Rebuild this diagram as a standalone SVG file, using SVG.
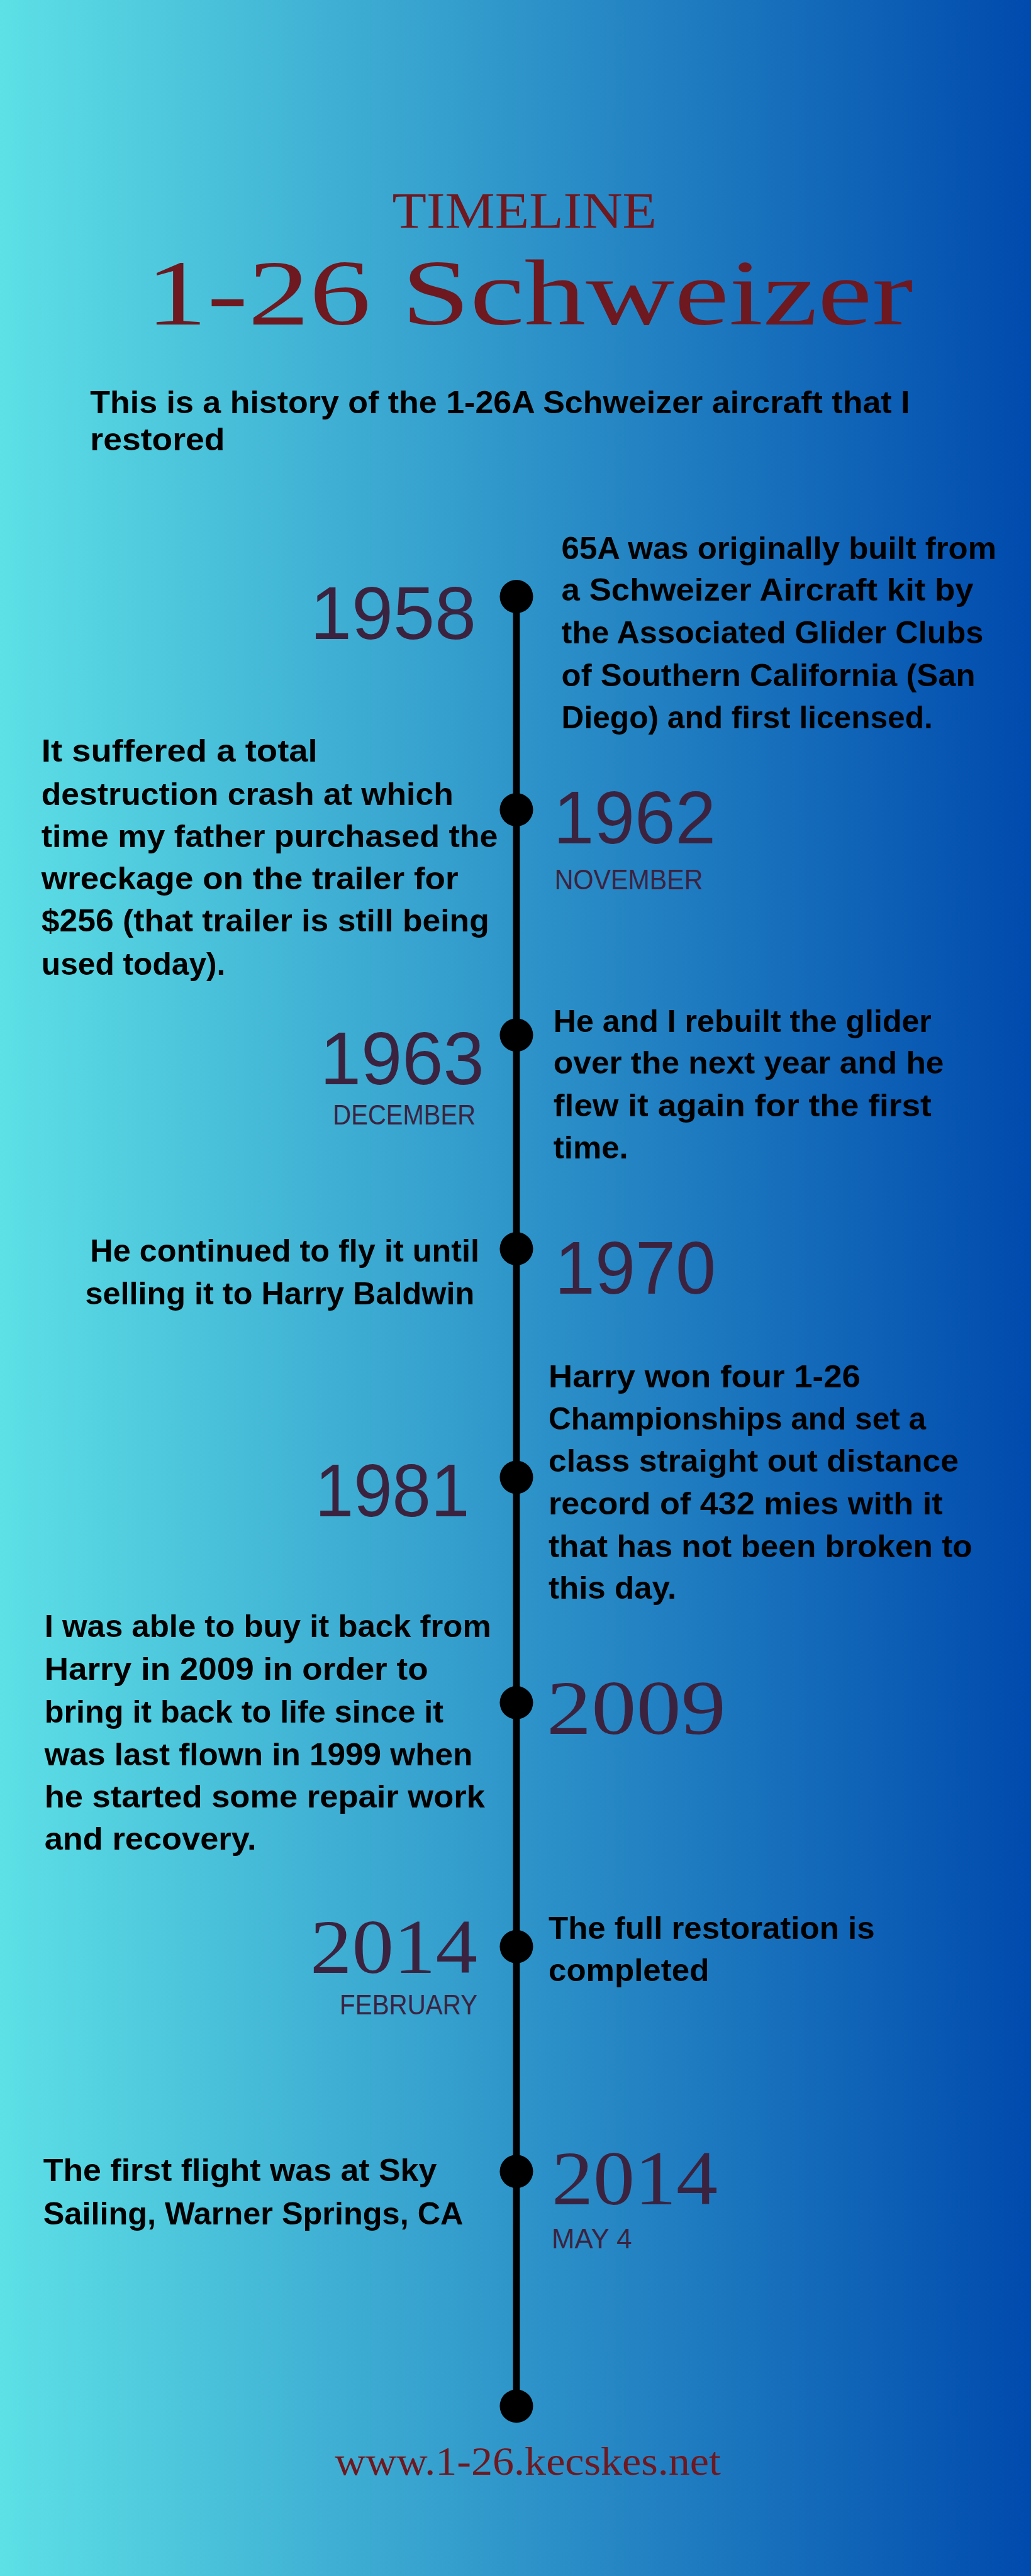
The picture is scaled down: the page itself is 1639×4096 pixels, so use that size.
<svg xmlns="http://www.w3.org/2000/svg" width="1639" height="4096" viewBox="0 0 1639 4096">
<defs>
<linearGradient id="bg" x1="0" y1="0" x2="1639" y2="0" gradientUnits="userSpaceOnUse">
<stop offset="0" stop-color="#5de0e6"/>
<stop offset="1" stop-color="#004aad"/>
</linearGradient>
<style>
.title{font-family:"Liberation Serif","DejaVu Serif",serif;fill:#6e1820;}
.body{font-family:"Liberation Sans","Arimo",sans-serif;font-weight:700;font-size:50px;fill:#000;}
.year{font-family:"Liberation Sans",sans-serif;font-size:120px;fill:#3b2340;}
.yearS{font-family:"Liberation Serif",serif;font-size:124px;fill:#3b2340;}
.month{font-family:"Liberation Sans",sans-serif;font-size:46px;fill:#3b2340;}
.dot{fill:#000;}
.line{stroke:#000;stroke-width:11;fill:none;}
</style>
</defs>
<rect x="0" y="0" width="1639" height="4096" fill="url(#bg)"/>
<g transform="scale(0.982)">
<g id="header">
<text class="title" x="635" y="369" font-size="82" textLength="428" lengthAdjust="spacingAndGlyphs">TIMELINE</text>
<text class="title" x="236" y="525" font-size="152" textLength="1242" lengthAdjust="spacingAndGlyphs">1-26 Schweizer</text>
<text class="body" x="146" y="669" textLength="1327" lengthAdjust="spacingAndGlyphs">This is a history of the 1-26A Schweizer aircraft that I</text>
<text class="body" x="146" y="729" textLength="218" lengthAdjust="spacingAndGlyphs">restored</text>
</g>
<g id="connectors">
<line class="line" x1="836" y1="966" x2="836" y2="3896"/>
</g>
<g id="event-1958">
<circle class="dot" cx="836" cy="966" r="27"/>
<text class="year" x="502" y="1035" textLength="269" lengthAdjust="spacingAndGlyphs">1958</text>
<text class="body" x="909" y="905" textLength="704" lengthAdjust="spacingAndGlyphs">65A was originally built from</text>
<text class="body" x="909" y="973" textLength="667" lengthAdjust="spacingAndGlyphs">a Schweizer Aircraft kit by</text>
<text class="body" x="909" y="1042" textLength="683" lengthAdjust="spacingAndGlyphs">the Associated Glider Clubs</text>
<text class="body" x="909" y="1111" textLength="670" lengthAdjust="spacingAndGlyphs">of Southern California (San</text>
<text class="body" x="909" y="1179" textLength="601" lengthAdjust="spacingAndGlyphs">Diego) and first licensed.</text>
</g>
<g id="event-1962">
<circle class="dot" cx="836" cy="1311" r="27"/>
<text class="year" x="896" y="1366" textLength="263" lengthAdjust="spacingAndGlyphs">1962</text>
<text class="month" x="898" y="1440" textLength="240" lengthAdjust="spacingAndGlyphs">NOVEMBER</text>
<text class="body" x="67" y="1233" textLength="447" lengthAdjust="spacingAndGlyphs">It suffered a total</text>
<text class="body" x="67" y="1303" textLength="667" lengthAdjust="spacingAndGlyphs">destruction crash at which</text>
<text class="body" x="67" y="1372" textLength="739" lengthAdjust="spacingAndGlyphs">time my father purchased the</text>
<text class="body" x="67" y="1440" textLength="675" lengthAdjust="spacingAndGlyphs">wreckage on the trailer for</text>
<text class="body" x="67" y="1508" textLength="725" lengthAdjust="spacingAndGlyphs">$256 (that trailer is still being</text>
<text class="body" x="67" y="1578" textLength="298" lengthAdjust="spacingAndGlyphs">used today).</text>
</g>
<g id="event-1963">
<circle class="dot" cx="836" cy="1676" r="27"/>
<text class="year" x="518" y="1756" textLength="266" lengthAdjust="spacingAndGlyphs">1963</text>
<text class="month" x="539" y="1821" textLength="231" lengthAdjust="spacingAndGlyphs">DECEMBER</text>
<text class="body" x="896" y="1671" textLength="612" lengthAdjust="spacingAndGlyphs">He and I rebuilt the glider</text>
<text class="body" x="896" y="1738" textLength="632" lengthAdjust="spacingAndGlyphs">over the next year and he</text>
<text class="body" x="896" y="1808" textLength="612" lengthAdjust="spacingAndGlyphs">flew it again for the first</text>
<text class="body" x="896" y="1876" textLength="121" lengthAdjust="spacingAndGlyphs">time.</text>
</g>
<g id="event-1970">
<circle class="dot" cx="836" cy="2022" r="27"/>
<text class="year" x="898" y="2095" textLength="261" lengthAdjust="spacingAndGlyphs">1970</text>
<text class="body" x="146" y="2043" textLength="630" lengthAdjust="spacingAndGlyphs">He continued to fly it until</text>
<text class="body" x="138" y="2112" textLength="630" lengthAdjust="spacingAndGlyphs">selling it to Harry Baldwin</text>
</g>
<g id="event-1981">
<circle class="dot" cx="836" cy="2392" r="27"/>
<text class="year" x="510" y="2455" textLength="250" lengthAdjust="spacingAndGlyphs">1981</text>
<text class="body" x="888" y="2246" textLength="505" lengthAdjust="spacingAndGlyphs">Harry won four 1-26</text>
<text class="body" x="888" y="2315" textLength="611" lengthAdjust="spacingAndGlyphs">Championships and set a</text>
<text class="body" x="888" y="2383" textLength="664" lengthAdjust="spacingAndGlyphs">class straight out distance</text>
<text class="body" x="888" y="2452" textLength="638" lengthAdjust="spacingAndGlyphs">record of 432 mies with it</text>
<text class="body" x="888" y="2521" textLength="686" lengthAdjust="spacingAndGlyphs">that has not been broken to</text>
<text class="body" x="888" y="2589" textLength="207" lengthAdjust="spacingAndGlyphs">this day.</text>
</g>
<g id="event-2009">
<circle class="dot" cx="836" cy="2757" r="27"/>
<text class="yearS" x="885" y="2808" textLength="290" lengthAdjust="spacingAndGlyphs">2009</text>
<text class="body" x="72" y="2651" textLength="723" lengthAdjust="spacingAndGlyphs">I was able to buy it back from</text>
<text class="body" x="72" y="2720" textLength="621" lengthAdjust="spacingAndGlyphs">Harry in 2009 in order to</text>
<text class="body" x="72" y="2789" textLength="646" lengthAdjust="spacingAndGlyphs">bring it back to life since it</text>
<text class="body" x="72" y="2858" textLength="693" lengthAdjust="spacingAndGlyphs">was last flown in 1999 when</text>
<text class="body" x="72" y="2927" textLength="713" lengthAdjust="spacingAndGlyphs">he started some repair work</text>
<text class="body" x="72" y="2995" textLength="343" lengthAdjust="spacingAndGlyphs">and recovery.</text>
</g>
<g id="event-2014-feb">
<circle class="dot" cx="836" cy="3152" r="27"/>
<text class="yearS" x="502" y="3195" textLength="271" lengthAdjust="spacingAndGlyphs">2014</text>
<text class="month" x="550" y="3262" textLength="223" lengthAdjust="spacingAndGlyphs">FEBRUARY</text>
<text class="body" x="888" y="3140" textLength="528" lengthAdjust="spacingAndGlyphs">The full restoration is</text>
<text class="body" x="888" y="3208" textLength="260" lengthAdjust="spacingAndGlyphs">completed</text>
</g>
<g id="event-2014-may">
<circle class="dot" cx="836" cy="3516" r="27"/>
<text class="yearS" x="893" y="3569" textLength="269" lengthAdjust="spacingAndGlyphs">2014</text>
<text class="month" x="893" y="3641" textLength="130" lengthAdjust="spacingAndGlyphs">MAY 4</text>
<text class="body" x="70" y="3532" textLength="637" lengthAdjust="spacingAndGlyphs">The first flight was at Sky</text>
<text class="body" x="70" y="3602" textLength="680" lengthAdjust="spacingAndGlyphs">Sailing, Warner Springs, CA</text>
</g>
<g id="end">
<circle class="dot" cx="836" cy="3896" r="27"/>
</g>
<g id="footer">
<text class="title" x="542" y="4007" font-size="64" textLength="625" lengthAdjust="spacingAndGlyphs">www.1-26.kecskes.net</text>
</g>
</g>
</svg>
